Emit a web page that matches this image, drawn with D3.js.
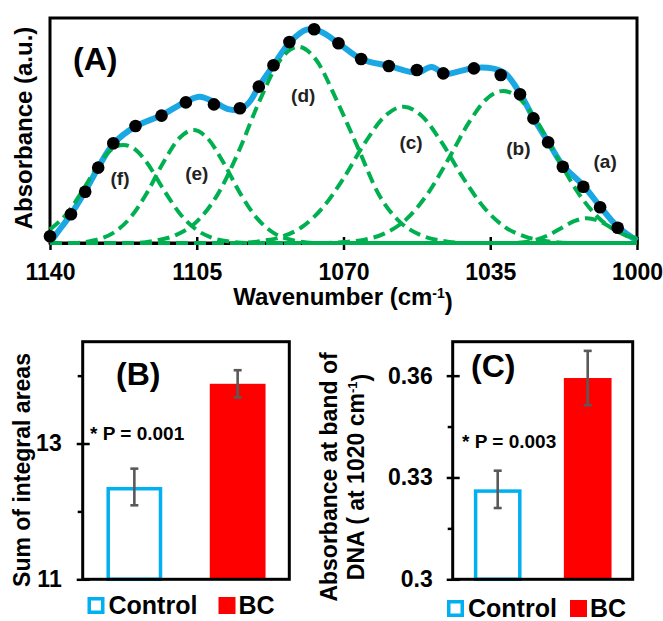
<!DOCTYPE html>
<html>
<head>
<meta charset="utf-8">
<script src="https://cdn.jsdelivr.net/npm/d3@7"></script>
<style>
  body { margin: 0; background: #fff; }
  text { font-family: "Liberation Sans", Arial, sans-serif; font-weight: bold; fill: #000; }
</style>
</head>
<body>
<div id="vis"></div>
<script>
// ---------- panel A data ----------
// measured spectrum (black dots)
var specWn  = [1140, 1135.0, 1131.6, 1128.5, 1124.9, 1119.6, 1113.4, 1107.6, 1100.9, 1094.7,
               1090.2, 1086.7, 1082.9, 1077.0, 1071.2, 1065.8, 1059.2, 1052.5, 1046.2, 1038.9,
               1032.5, 1027.9, 1024.7, 1021.2, 1017.7, 1012.8, 1008.8, 1004.6];
var specAbs = [0.03, 0.128, 0.228, 0.335, 0.443, 0.52, 0.566, 0.625, 0.616, 0.599,
               0.695, 0.79, 0.893, 0.95, 0.888, 0.818, 0.787, 0.769, 0.754, 0.776,
               0.747, 0.661, 0.554, 0.448, 0.339, 0.25, 0.159, 0.068];

// fitted curve (blue)
var fitWn  = [1140, 1138.5, 1135.0, 1131.6, 1128.5, 1124.9, 1119.6, 1113.4, 1107.6, 1104.3,
              1100.9, 1097.5, 1094.7, 1092.5, 1090.2, 1086.7, 1082.9, 1078.8, 1075.5, 1071.2,
              1065.8, 1059.2, 1052.5, 1049, 1045.8, 1042, 1038.9, 1034.5, 1031.5, 1027.9,
              1024.7, 1021.2, 1017.7, 1012.8, 1008.8, 1004.6, 1000];
var fitAbs = [0.0, 0.04, 0.128, 0.23, 0.335, 0.44, 0.518, 0.568, 0.628, 0.65,
              0.627, 0.595, 0.593, 0.625, 0.695, 0.79, 0.89, 0.948, 0.94, 0.888,
              0.818, 0.787, 0.757, 0.782, 0.752, 0.765, 0.778, 0.776, 0.755, 0.665,
              0.556, 0.45, 0.345, 0.255, 0.163, 0.072, 0.01];

// fitted bands (green dashed), [wavenumber, absorbance]
var bandNames = ["(a)", "(b)", "(c)", "(d)", "(e)", "(f)"];
var bandA = [[1140, 0], [1030, 0], [1025, 0.01], [1021, 0.036], [1018, 0.067], [1015, 0.097],
             [1012, 0.11], [1009, 0.097], [1006, 0.067], [1003, 0.036], [1000, 0.015]];
var bandB = [[1140, 0], [1075, 0], [1070, 0.004], [1065, 0.015], [1060, 0.044], [1055, 0.106],
             [1050, 0.217], [1045, 0.372], [1040, 0.538], [1036, 0.638], [1031.9, 0.676],
             [1028, 0.641], [1024, 0.544], [1019, 0.379], [1014, 0.222], [1009, 0.109],
             [1004, 0.045], [1000, 0.02]];
var bandC = [[1140, 0], [1095, 0], [1090, 0.008], [1085, 0.026], [1080, 0.07], [1075, 0.156],
             [1070, 0.287], [1065, 0.442], [1060, 0.566], [1055.7, 0.606], [1051.5, 0.568],
             [1046.5, 0.445], [1041.5, 0.29], [1036.5, 0.158], [1031.5, 0.071], [1026.5, 0.027],
             [1021.5, 0.008], [1016, 0], [1000, 0]];
var bandD = [[1140, 0], [1120, 0], [1115, 0.01], [1110, 0.035], [1105, 0.095], [1100, 0.216],
             [1095, 0.407], [1090, 0.633], [1085, 0.816], [1080.8, 0.872], [1076.5, 0.813],
             [1071.5, 0.629], [1066.5, 0.421], [1061.5, 0.213], [1056.5, 0.093], [1051.5, 0.034],
             [1046.5, 0.01], [1041, 0], [1000, 0]];
var bandE = [[1140, 0], [1134, 0], [1130, 0.01], [1125, 0.044], [1121, 0.109], [1117, 0.219],
             [1113, 0.357], [1109, 0.469], [1105.8, 0.502], [1102.5, 0.467], [1098.5, 0.353],
             [1094.5, 0.216], [1090.5, 0.107], [1086.5, 0.043], [1081.5, 0.01], [1077, 0], [1000, 0]];
var bandF = [[1140, 0.06], [1136, 0.13], [1132, 0.24], [1128, 0.36], [1125, 0.42], [1122.5, 0.436],
             [1120, 0.42], [1117, 0.36], [1113, 0.24], [1109, 0.13], [1105, 0.058], [1101, 0.021],
             [1097, 0.006], [1092, 0], [1000, 0]];
var bands = [bandA, bandB, bandC, bandD, bandE, bandF];
var xTicks = [1140, 1105, 1070, 1035, 1000];

// ---------- panels B and C data ----------
var groups = ["Control", "BC"];
var areaMean = [12.36, 13.88];
var areaErr  = [0.27, 0.2];
var dnaMean  = [0.3265, 0.3593];
var dnaErr   = [0.0055, 0.008];
var pText    = ["* P = 0.001", "* P = 0.003"];

var colors = {control: "#00B0F0", bc: "#FF0000", fit: "#1AA7E4", band: "#00B050", err: "#595959"};

var svg = d3.select("#vis").append("svg")
  .attr("width", 663)
  .attr("height", 621);

// ================= panel A =================
var mA = {left: 50, right: 637, top: 18, bottom: 243};
var x = d3.scaleLinear().domain([1140, 1000]).range([mA.left, mA.right]);
var y = d3.scaleLinear().domain([0, 1]).range([mA.bottom, mA.top]);

var gA = svg.append("g");

gA.append("rect")
  .attr("x", mA.left).attr("y", mA.top)
  .attr("width", mA.right - mA.left).attr("height", mA.bottom - mA.top)
  .attr("fill", "none").attr("stroke", "#000").attr("stroke-width", 3);

var xAxis = gA.append("g")
  .attr("transform", "translate(0," + mA.bottom + ")")
  .call(d3.axisBottom(x).tickValues(xTicks).tickSize(7).tickSizeOuter(0).tickFormat(d3.format("d")));
xAxis.select(".domain").attr("stroke-width", 3);
xAxis.selectAll(".tick line").attr("y1", -6).attr("stroke-width", 2.5);
xAxis.selectAll(".tick text")
  .attr("y", 21)
  .style("font-size", "23px")
  .style("font-family", "'Liberation Sans', Arial, sans-serif")
  .style("font-weight", "bold")
  .attr("fill", "#000");

// fitted sum
var fitLine = d3.line()
  .x(function(d, i) { return x(fitWn[i]); })
  .y(function(d) { return y(d); })
  .curve(d3.curveCatmullRom.alpha(0.5));
gA.append("path")
  .attr("d", fitLine(fitAbs))
  .attr("fill", "none")
  .attr("stroke", colors.fit)
  .attr("stroke-width", 6)
  .attr("stroke-linejoin", "round");

// bands
var bandLine = d3.line()
  .x(function(d) { return x(d[0]); })
  .y(function(d) { return y(d[1]); })
  .curve(d3.curveMonotoneX);
gA.selectAll(".band")
  .data(bands)
  .enter().append("path")
    .attr("class", "band")
    .attr("d", bandLine)
    .attr("fill", "none")
    .attr("stroke", colors.band)
    .attr("stroke-width", 4)
    .attr("stroke-dasharray", "12,6");

// measured points
gA.selectAll(".dot")
  .data(specAbs)
  .enter().append("circle")
    .attr("class", "dot")
    .attr("cx", function(d, i) { return x(specWn[i]); })
    .attr("cy", function(d) { return y(d); })
    .attr("r", 6.3)
    .attr("fill", "#000");

// band labels, anchored in data units
var labelAt = [[1007.6, 0.361], [1028.3, 0.421], [1053.9, 0.448], [1079.6, 0.658], [1105.0, 0.31], [1123.3, 0.288]];
gA.selectAll(".blabel")
  .data(bandNames)
  .enter().append("text")
    .attr("class", "blabel")
    .attr("x", function(d, i) { return x(labelAt[i][0]); })
    .attr("y", function(d, i) { return y(labelAt[i][1]); })
    .attr("dy", "0.35em")
    .attr("text-anchor", "middle")
    .style("font-size", "19px")
    .style("fill", "#222")
    .text(function(d) { return d; });

gA.append("text").attr("x", 73).attr("y", 70).style("font-size", "32px").text("(A)");

gA.append("text")
  .attr("transform", "translate(32,128) rotate(-90)")
  .attr("text-anchor", "middle")
  .style("font-size", "24px")
  .text("Absorbance (a.u.)");

var wl = gA.append("text")
  .attr("x", 343).attr("y", 305)
  .attr("text-anchor", "middle")
  .style("font-size", "24px");
wl.append("tspan").text("Wavenumber (cm");
wl.append("tspan").attr("dy", "-0.5em").style("font-size", "14px").text("-1");
wl.append("tspan").attr("dy", "0.5em").text(")");

// ================= bar panels =================
function barPanel(opt) {
  var g = svg.append("g");
  var xb = d3.scaleBand().domain(groups)
    .range([opt.left, opt.right])
    .paddingInner(opt.pad).paddingOuter(opt.pad / 2);
  var yb = d3.scaleLinear().domain(opt.domain).range([opt.bottom, opt.top]);

  // minor ticks
  var minor = g.append("g")
    .attr("transform", "translate(" + opt.left + ",0)")
    .call(d3.axisLeft(yb).tickValues(opt.minor).tickSize(5).tickFormat(""));
  minor.select(".domain").remove();
  minor.selectAll(".tick line").attr("stroke-width", 2.5);

  var ax = g.append("g")
    .attr("transform", "translate(" + opt.left + ",0)")
    .call(d3.axisLeft(yb).tickValues(opt.major).tickSize(6).tickFormat(d3.format("~g")));
  ax.select(".domain").remove();
  ax.selectAll(".tick line").attr("x1", 7).attr("stroke-width", 2.5);
  ax.selectAll(".tick text")
    .attr("x", -opt.labelGap)
    .style("font-size", "23px")
    .style("font-family", "'Liberation Sans', Arial, sans-serif")
    .style("font-weight", "bold")
    .attr("fill", "#000");

  // bars
  var bw = xb.bandwidth();
  g.selectAll(".bar")
    .data(opt.mean)
    .enter().append("rect")
      .attr("class", "bar")
      .attr("x", function(d, i) { return i === 0 ? xb(groups[i]) + 1.75 : xb(groups[i]); })
      .attr("y", function(d, i) { return i === 0 ? yb(d) + 1.75 : yb(d); })
      .attr("width", function(d, i) { return i === 0 ? bw - 3.5 : bw; })
      .attr("height", function(d, i) { return opt.bottom - yb(d) - (i === 0 ? 1.75 : 0); })
      .attr("fill", function(d, i) { return i === 0 ? "#fff" : colors.bc; })
      .attr("stroke", function(d, i) { return i === 0 ? colors.control : "none"; })
      .attr("stroke-width", 3.5);

  // frame
  g.append("rect")
    .attr("x", opt.left).attr("y", opt.top)
    .attr("width", opt.right - opt.left).attr("height", opt.bottom - opt.top)
    .attr("fill", "none").attr("stroke", "#000").attr("stroke-width", 3);

  // error bars
  opt.mean.forEach(function(m, i) {
    var cx = xb(groups[i]) + bw / 2;
    var e = g.append("g").attr("stroke", colors.err).attr("stroke-width", 2.6);
    e.append("line").attr("x1", cx).attr("x2", cx).attr("y1", yb(m + opt.err[i])).attr("y2", yb(m - opt.err[i]));
    e.append("line").attr("x1", cx - 4).attr("x2", cx + 4).attr("y1", yb(m + opt.err[i])).attr("y2", yb(m + opt.err[i]));
    e.append("line").attr("x1", cx - 4).attr("x2", cx + 4).attr("y1", yb(m - opt.err[i])).attr("y2", yb(m - opt.err[i]));
  });

  g.append("text").attr("x", opt.tagX).attr("y", opt.tagY).style("font-size", "32px").text(opt.tag);
  g.append("text").attr("x", opt.pX).attr("y", opt.pY).style("font-size", "19px").text(opt.p);

  // legend
  var lg = g.append("g").attr("transform", "translate(" + opt.legX + "," + opt.legY + ")");
  lg.append("rect").attr("x", 1.75).attr("y", 1.75).attr("width", 13.5).attr("height", 13.5)
    .attr("fill", "#fff").attr("stroke", colors.control).attr("stroke-width", 3.5);
  lg.append("text").attr("x", 21).attr("y", 17).style("font-size", "25px").text(groups[0]);
  lg.append("rect").attr("x", opt.legGap).attr("y", 0).attr("width", 17).attr("height", 17)
    .attr("fill", colors.bc);
  lg.append("text").attr("x", opt.legGap + 20).attr("y", 17).style("font-size", "25px").text(groups[1]);

  return g;
}

var gB = barPanel({
  left: 82.7, right: 289.3, top: 341.7, bottom: 579.3, pad: 0.46,
  domain: [11, 14.5], major: [11, 13], minor: [12, 14], labelGap: 21,
  mean: areaMean, err: areaErr,
  tag: "(B)", tagX: 116, tagY: 385, p: pText[0], pX: 90, pY: 440,
  legX: 87.5, legY: 597, legGap: 131
});
gB.append("text")
  .attr("transform", "translate(30,470) rotate(-90)")
  .attr("text-anchor", "middle")
  .style("font-size", "23px")
  .text("Sum of integral areas");

var gC = barPanel({
  left: 452.7, right: 632.7, top: 341.7, bottom: 579.3, pad: 0.47,
  domain: [0.3, 0.37], major: [0.3, 0.33, 0.36], minor: [0.315, 0.345], labelGap: 20,
  mean: dnaMean, err: dnaErr,
  tag: "(C)", tagX: 471, tagY: 377, p: pText[1], pX: 462, pY: 448,
  legX: 447, legY: 600, legGap: 123
});
var yl = gC.append("text")
  .attr("transform", "translate(336.5,477) rotate(-90)")
  .attr("text-anchor", "middle")
  .style("font-size", "23px");
yl.append("tspan").attr("x", 0).attr("y", 0).text("Absorbance at band of");
var yl2 = gC.append("text")
  .attr("transform", "translate(363.5,477) rotate(-90)")
  .attr("text-anchor", "middle")
  .style("font-size", "23px");
yl2.append("tspan").text("DNA ( at 1020 cm");
yl2.append("tspan").attr("dy", "-0.5em").style("font-size", "13px").text("-1");
yl2.append("tspan").attr("dy", "0.5em").text(")");
</script>
</body>
</html>
